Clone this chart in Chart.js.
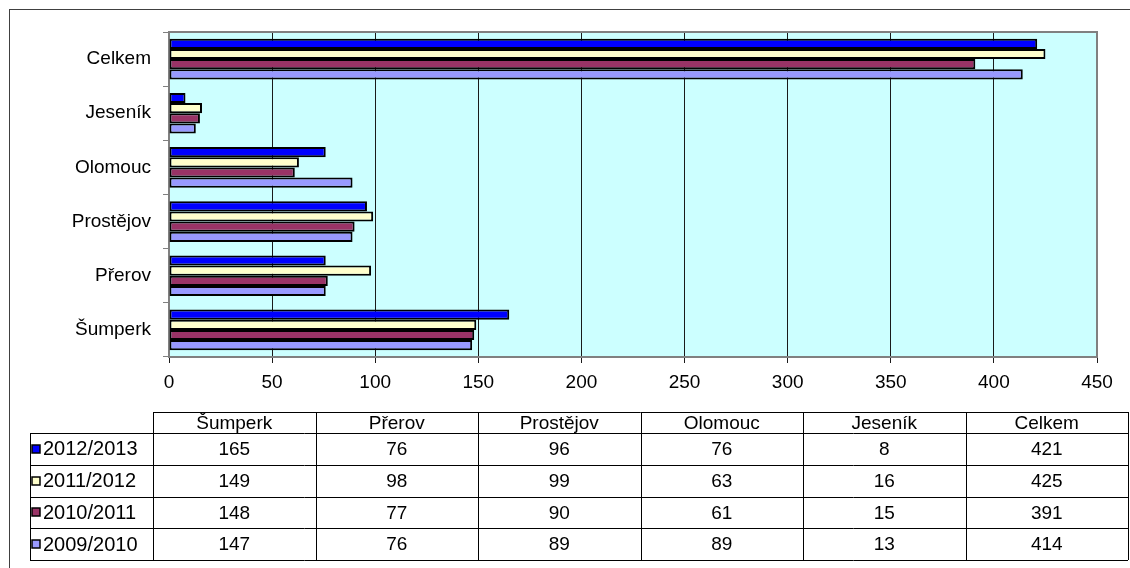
<!DOCTYPE html>
<html>
<head>
<meta charset="utf-8">
<script src="https://cdn.jsdelivr.net/npm/chart.js@4.4.0/dist/chart.umd.min.js"></script>
<style>
    html, body { margin: 0; padding: 0; background: #fff; }
    #obal { width: 1130px; height: 568px; position: relative; }
</style>
</head>
<body>
<div id="obal"><canvas id="grafOkresy"></canvas></div>
<script>
    const okresy = ['Šumperk', 'Přerov', 'Prostějov', 'Olomouc', 'Jeseník', 'Celkem'];
    const roky = ['2012/2013', '2011/2012', '2010/2011', '2009/2010'];
    const r2012 = [165, 76, 96, 76, 8, 421];
    const r2011 = [149, 98, 99, 63, 16, 425];
    const r2010 = [148, 77, 90, 61, 15, 391];
    const r2009 = [147, 76, 89, 89, 13, 414];
    const osaX = [0, 50, 100, 150, 200, 250, 300, 350, 400, 450];
    const barvy = ['#0000FF', '#FFFFCC', '#993366', '#9999FF'];

    const pismo = 'Liberation Sans, Arial, sans-serif';

    // pozadi grafu, ramecek a tabulka s hodnotami
    const tabulka = {
        id: 'tabulka',
        beforeDraw(chart) {
            const ctx = chart.ctx;
            const a = chart.chartArea;
            ctx.save();
            ctx.fillStyle = '#fff';
            ctx.fillRect(0, 0, chart.width, chart.height);
            ctx.strokeStyle = '#404040';
            ctx.lineWidth = 1;
            ctx.strokeRect(9.5, 9.5, 1400, 800);
            ctx.fillStyle = '#CCFFFF';
            ctx.fillRect(a.left, a.top, a.right - a.left, a.bottom - a.top);
            ctx.restore();
        },
        afterDraw(chart) {
            const ctx = chart.ctx;
            const a = chart.chartArea;
            ctx.save();
            // sedy okraj plochy
            ctx.strokeStyle = '#808080';
            ctx.lineWidth = 2;
            ctx.beginPath();
            ctx.moveTo(a.left, a.top);
            ctx.lineTo(a.right, a.top);
            ctx.lineTo(a.right, a.bottom);
            ctx.stroke();

            const x0 = 30, x1 = 153, x2 = 1128;
            const yH = 412, yR = 433, rowH = 31.75;
            const colW = (x2 - x1) / okresy.length;
            const sady = chart.data.datasets;
            const yEnd = yR + rowH * sady.length;

            ctx.strokeStyle = '#000';
            ctx.lineWidth = 1;
            ctx.beginPath();
            ctx.moveTo(x1, yH + 0.5); ctx.lineTo(x2, yH + 0.5);
            for (let r = 0; r <= sady.length; r++) {
                const y = Math.round(yR + rowH * r) + 0.5;
                ctx.moveTo(x0, y); ctx.lineTo(x2, y);
            }
            ctx.moveTo(x0 + 0.5, yR); ctx.lineTo(x0 + 0.5, yEnd);
            for (let c = 0; c <= okresy.length; c++) {
                const x = Math.round(x1 + colW * c) + 0.5;
                ctx.moveTo(x, yH); ctx.lineTo(x, yEnd);
            }
            ctx.stroke();

            ctx.font = '19px ' + pismo;
            ctx.fillStyle = '#000';
            ctx.textBaseline = 'middle';
            ctx.textAlign = 'center';
            okresy.forEach((o, c) => {
                ctx.fillText(o, x1 + colW * (c + 0.5), (yH + yR) / 2 + 1);
            });
            sady.forEach((s, r) => {
                const yc = yR + rowH * (r + 0.5) + 1;
                ctx.font = '19px ' + pismo;
                ctx.textAlign = 'center';
                s.data.forEach((v, c) => {
                    ctx.fillText(String(v), x1 + colW * (c + 0.5), yc);
                });
                ctx.fillStyle = s.backgroundColor;
                ctx.fillRect(x0 + 2, Math.round(yc) - 5, 8, 8);
                ctx.strokeStyle = '#000';
                ctx.lineWidth = 1.5;
                ctx.strokeRect(x0 + 2, Math.round(yc) - 5, 8, 8);
                ctx.fillStyle = '#000';
                ctx.textAlign = 'left';
                ctx.font = '20px ' + pismo;
                ctx.fillText(s.label, x0 + 13, yc);
            });
            ctx.restore();
        }
    };

    const ctx = document.getElementById('grafOkresy').getContext('2d');

    new Chart(ctx, {
        type: 'bar',
        data: {
            labels: okresy,
            datasets: [r2012, r2011, r2010, r2009].map((d, i) => ({
                label: roky[i],
                data: d,
                backgroundColor: barvy[i],
                borderColor: '#000',
                borderWidth: 2,
                borderSkipped: false,
                categoryPercentage: 0.75,
                barPercentage: 1.0
            }))
        },
        options: {
            indexAxis: 'y',
            responsive: true,
            maintainAspectRatio: false,
            animation: false,
            layout: {
                padding: { left: 0, top: 32, right: 33, bottom: 171 }
            },
            plugins: {
                legend: { display: false },
                tooltip: { enabled: false }
            },
            scales: {
                x: {
                    min: osaX[0],
                    max: osaX[osaX.length - 1],
                    ticks: {
                        stepSize: osaX[1] - osaX[0],
                        color: '#000',
                        padding: 8,
                        font: { family: pismo, size: 19 }
                    },
                    grid: { color: '#1a1a1a', lineWidth: 1, tickLength: 6 },
                    border: { color: '#808080', width: 2 },
                    afterFit: s => { s.height = 40; }
                },
                y: {
                    reverse: true,
                    ticks: {
                        color: '#000',
                        padding: 12,
                        font: { family: pismo, size: 19 }
                    },
                    grid: { drawOnChartArea: false, offset: true, color: '#808080', tickLength: 6 },
                    border: { color: '#808080', width: 2 },
                    afterFit: s => { s.width = 169; }
                }
            }
        },
        plugins: [tabulka]
    });
</script>
</body>
</html>
